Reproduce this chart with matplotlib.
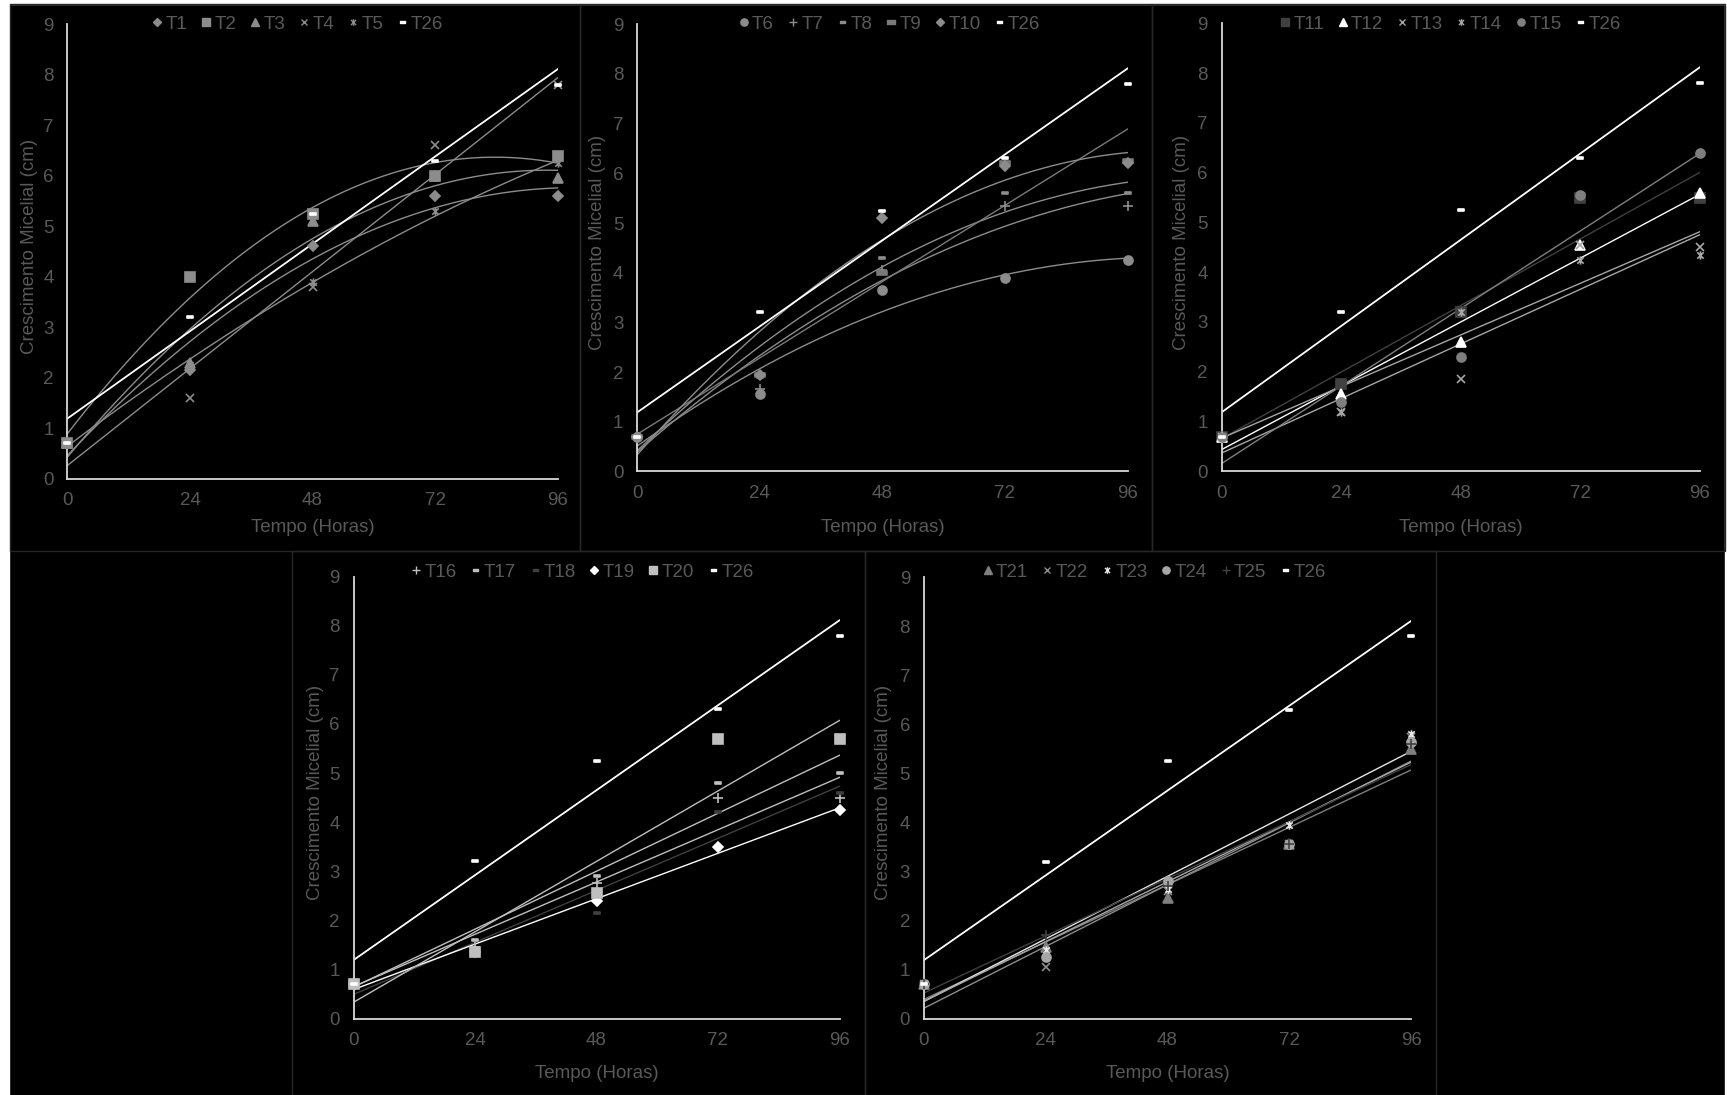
import numpy as np
import matplotlib
matplotlib.use("Agg")
import matplotlib.pyplot as plt
from matplotlib.patches import Rectangle
from matplotlib.path import Path
from matplotlib.lines import Line2D

plt.rcParams["font.family"] = ["Liberation Sans", "DejaVu Sans"]

# time points (hours)
hours = [0, 24, 48, 72, 96]

# mycelial growth (cm)
t1 = [0.7, 2.15, 4.6, 5.6, 5.6]
t2 = [0.7, 4.0, 5.25, 6.0, 6.4]
t3 = [0.7, 2.3, 5.1, 6.0, 5.95]
t4 = [0.7, 1.6, 3.8, 6.6, 7.8]
t5 = [0.7, 2.25, 3.9, 5.3, 6.25]
t6 = [0.7, 1.55, 3.65, 3.9, 4.25]
t7 = [0.7, 1.65, 4.05, 5.35, 5.35]
t8 = [0.7, 1.9, 4.3, 5.6, 5.6]
t9 = [0.7, 1.95, 4.0, 6.2, 6.25]
t10 = [0.7, 1.95, 5.1, 6.15, 6.2]
t11 = [0.7, 1.75, 3.2, 5.5, 5.5]
t12 = [0.7, 1.55, 2.6, 4.55, 5.6]
t13 = [0.7, 1.2, 1.85, 4.55, 4.5]
t14 = [0.7, 1.2, 3.2, 4.25, 4.35]
t15 = [0.7, 1.4, 2.3, 5.55, 6.4]
t16 = [0.7, 1.45, 2.75, 4.5, 4.5]
t17 = [0.7, 1.6, 2.9, 4.8, 5.0]
t18 = [0.7, 1.4, 2.15, 4.2, 4.6]
t19 = [0.7, 1.35, 2.4, 3.5, 4.25]
t20 = [0.7, 1.35, 2.55, 5.7, 5.7]
t21 = [0.7, 1.45, 2.45, 3.55, 5.5]
t22 = [0.7, 1.05, 2.6, 3.55, 5.75]
t23 = [0.7, 1.4, 2.65, 3.95, 5.8]
t24 = [0.7, 1.25, 2.8, 3.55, 5.65]
t25 = [0.7, 1.7, 2.7, 3.55, 5.6]
t26 = [0.7, 3.2, 5.25, 6.3, 7.8]

W, H = 1727, 1095
TEXT = "#595959"
FS = 13.5

star = Path([(-1, -1), (1, 1), (-1, 1), (1, -1), (0, -1.3), (0, 1.3)],
            [Path.MOVETO, Path.LINETO, Path.MOVETO, Path.LINETO, Path.MOVETO, Path.LINETO])
dash = Path([(-1, -0.45), (1, -0.45), (1, 0.45), (-1, 0.45), (-1, -0.45)],
            [Path.MOVETO, Path.LINETO, Path.LINETO, Path.LINETO, Path.CLOSEPOLY])

# (label, values, marker, marker size, colour, trend degree)
panels = [
    dict(box=(67.4, 557.6, 24.3, 478.6), frame=(10, 580, 4, 551), ylab=30, xlab=527,
         leg=(297, 24), series=[
             ("T1", t1, "D", 5, "#8c8c8c", 2),
             ("T2", t2, "s", 6.5, "#8c8c8c", 2),
             ("T3", t3, "^", 6.5, "#8c8c8c", 2),
             ("T4", t4, "x", 6, "#8c8c8c", 1),
             ("T5", t5, star, 6, "#8c8c8c", 2),
             ("T26", t26, dash, 4.5, "#ffffff", 1)]),
    dict(box=(637.3, 1127.5, 24.3, 471.4), frame=(580, 1152, 4, 551), ylab=598, xlab=527,
         leg=(889, 24), series=[
             ("T6", t6, "o", 6.5, "#8c8c8c", 2),
             ("T7", t7, "+", 6.5, "#8c8c8c", 2),
             ("T8", t8, dash, 4.5, "#8c8c8c", 2),
             ("T9", t9, dash, 6.5, "#7a7a7a", 1),
             ("T10", t10, "D", 5, "#8c8c8c", 2),
             ("T26", t26, dash, 4.5, "#ffffff", 1)]),
    dict(box=(1221.8, 1699.5, 23.2, 471.4), frame=(1152, 1725, 4, 551), ylab=1182, xlab=527,
         leg=(1450, 24), series=[
             ("T11", t11, "s", 6.5, "#404040", 1),
             ("T12", t12, "^", 6.5, "#ffffff", 1),
             ("T13", t13, "x", 6, "#a6a6a6", 1),
             ("T14", t14, star, 6, "#a6a6a6", 1),
             ("T15", t15, "o", 6.5, "#7f7f7f", 1),
             ("T26", t26, dash, 4.5, "#ffffff", 1)]),
    dict(box=(353.5, 839.5, 576.6, 1018.5), frame=(292, 865, 551, 1095), ylab=315, xlab=1073,
         leg=(582, 572), series=[
             ("T16", t16, "+", 6.5, "#bfbfbf", 1),
             ("T17", t17, dash, 4.5, "#bfbfbf", 1),
             ("T18", t18, dash, 4.5, "#404040", 1),
             ("T19", t19, "D", 5, "#ffffff", 1),
             ("T20", t20, "s", 6.5, "#bfbfbf", 1),
             ("T26", t26, dash, 4.5, "#ffffff", 1)]),
    dict(box=(923.9, 1411.1, 577.3, 1018.5), frame=(865, 1436, 551, 1095), ylab=884, xlab=1073,
         leg=(1154, 572), series=[
             ("T21", t21, "^", 6.5, "#7f7f7f", 1),
             ("T22", t22, "x", 6, "#8c8c8c", 1),
             ("T23", t23, star, 6, "#e6e6e6", 1),
             ("T24", t24, "o", 6.5, "#a6a6a6", 1),
             ("T25", t25, "+", 6.5, "#404040", 1),
             ("T26", t26, dash, 4.5, "#ffffff", 1)]),
]

fig = plt.figure(figsize=(W / 100, H / 100), dpi=100, facecolor="black")

# white edges of the screenshot
for x, y, w, h in [(0, 0, W, 4), (0, 0, 9, H), (1725, 0, 2, H)]:
    fig.patches.append(Rectangle((x / W, 1 - (y + h) / H), w / W, h / H,
                                 transform=fig.transFigure, color="white", zorder=0))

xs = np.linspace(0, 96, 200)
for p in panels:
    fx0, fx1, fy0, fy1 = p["frame"]
    fig.patches.append(Rectangle((fx0 / W, 1 - fy1 / H), (fx1 - fx0) / W, (fy1 - fy0) / H,
                                 transform=fig.transFigure, facecolor="none",
                                 edgecolor="#262626", lw=1, zorder=1))
    x0, x1, ytop, ybot = p["box"]
    ax = fig.add_axes([x0 / W, 1 - ybot / H, (x1 - x0) / W, (ybot - ytop) / H])
    ax.set_facecolor("none")
    ax.set_xlim(0, 96)
    ax.set_ylim(0, 9)
    ax.set_xticks(hours)
    ax.set_yticks(range(10))
    ax.tick_params(length=0, colors=TEXT, labelsize=FS, pad=10)
    for side in ("top", "right"):
        ax.spines[side].set_visible(False)
    for side in ("left", "bottom"):
        ax.spines[side].set_color("#d9d9d9")
        ax.spines[side].set_linewidth(1.3)

    handles = []
    for label, vals, marker, ms, color, deg in p["series"]:
        coef = np.polyfit(hours, vals, deg)
        lw = 1.3 if label == "T26" else 1.0
        ax.plot(xs, np.polyval(coef, xs), color=color, lw=lw, zorder=2)
        ax.plot(hours, vals, linestyle="none", marker=marker, markersize=ms,
                color=color, markeredgecolor=color, mew=1.2, zorder=3, clip_on=False)
        handles.append(Line2D([], [], linestyle="none", marker=marker, markersize=ms * 0.8,
                              color=color, markeredgecolor=color, mew=1.0, label=label))

    fig.text(p["ylab"] / W, 1 - ((ytop + ybot) / 2 - 5) / H, "Crescimento Micelial (cm)",
             rotation=90, ha="center", va="center", color=TEXT, fontsize=FS)
    fig.text(((x0 + x1) / 2) / W, 1 - p["xlab"] / H, "Tempo (Horas)",
             ha="center", va="center", color=TEXT, fontsize=FS)
    lx, ly = p["leg"]
    fig.legend(handles=handles, loc="center", bbox_to_anchor=(lx / W, 1 - ly / H),
               ncol=6, frameon=False, fontsize=FS, labelcolor=TEXT,
               handlelength=0.6, handletextpad=0.15, columnspacing=0.7, borderpad=0)

fig.savefig("out.png", dpi=100, facecolor="black")
